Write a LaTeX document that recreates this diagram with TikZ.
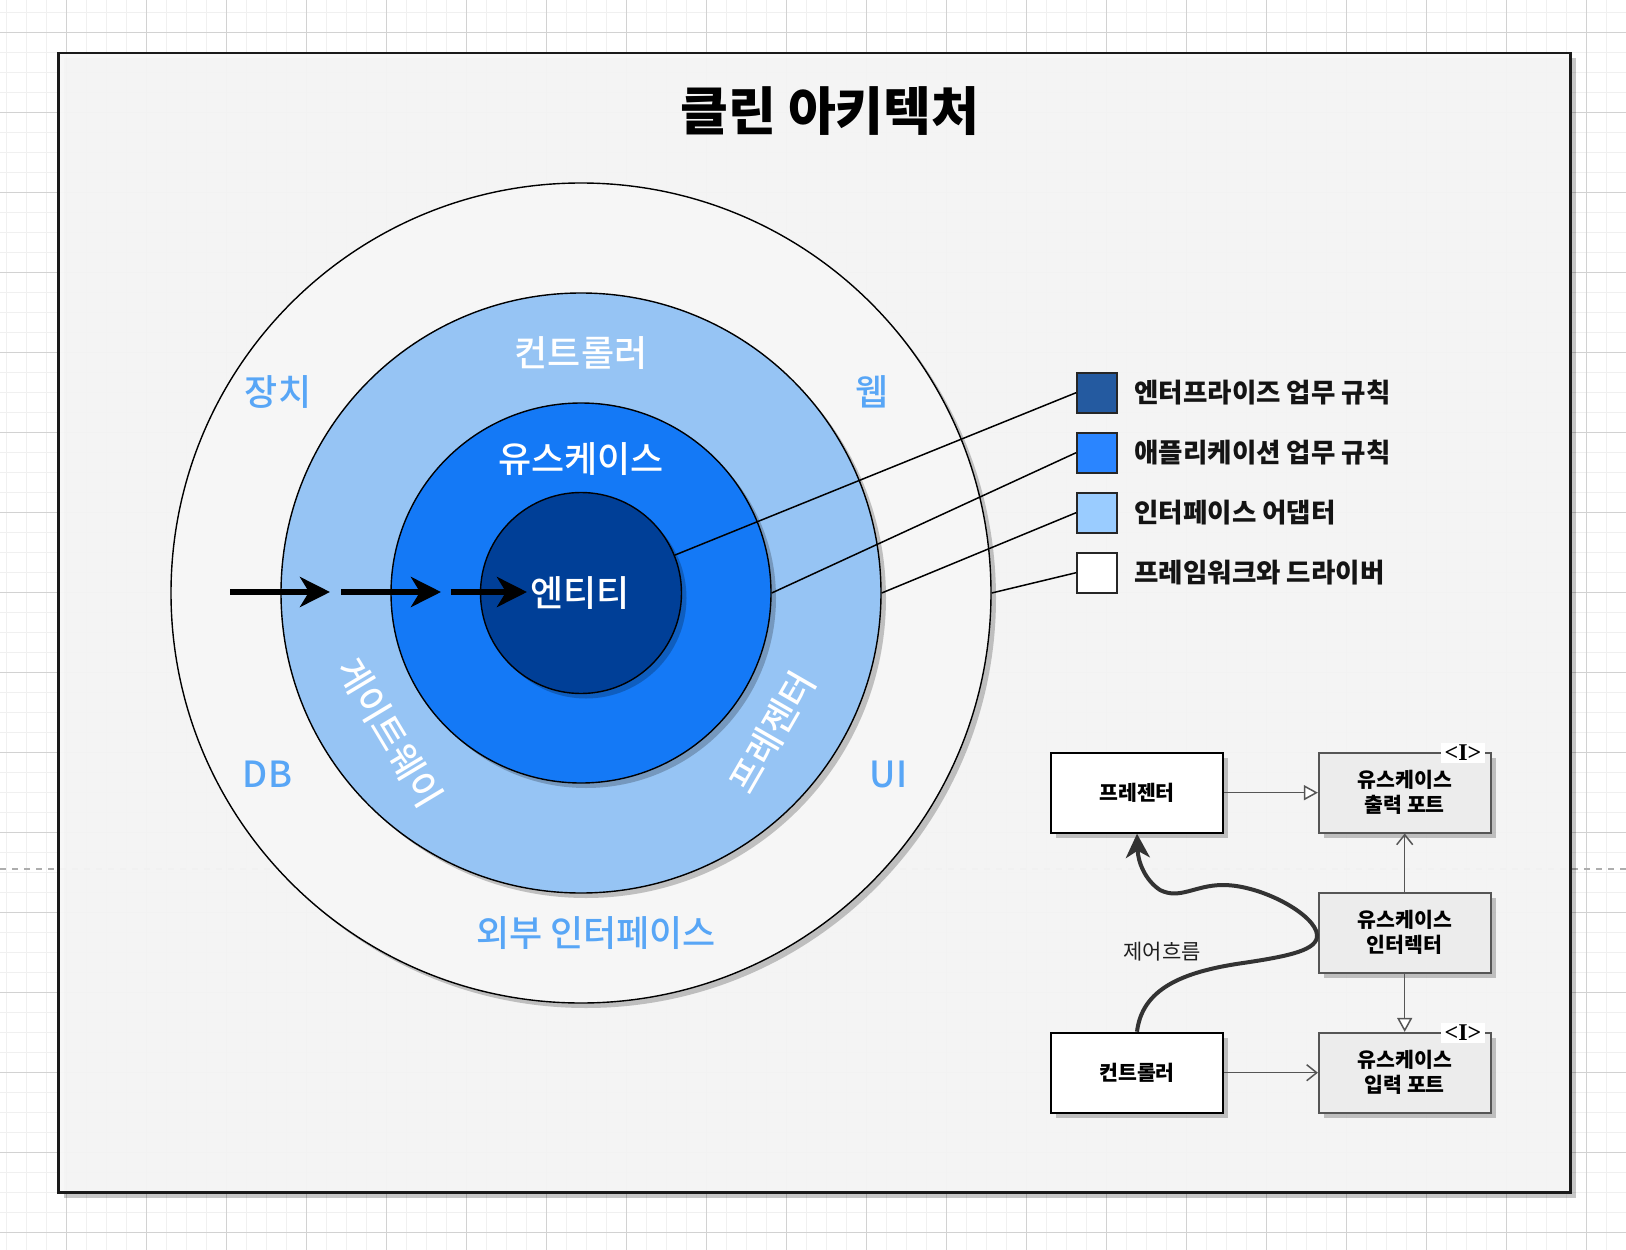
\documentclass[tikz,border=0pt]{standalone}
\usepackage{fontspec}
\setmainfont{Noto Sans CJK KR}
\newfontfamily\medfont{Noto Sans CJK KR Medium}
\newfontfamily\serifI{Liberation Serif}
\usetikzlibrary{arrows.meta,shadows}
\definecolor{framefill}{HTML}{F7F7F7}
\definecolor{framedraw}{HTML}{1A1A1A}
\definecolor{outerfill}{HTML}{F6F6F6}
\definecolor{ifacefill}{HTML}{96C4F4}
\definecolor{ucfill}{HTML}{1479F6}
\definecolor{entfill}{HTML}{003F97}
\definecolor{lgent}{HTML}{245AA0}
\definecolor{lgapp}{HTML}{2A85FF}
\definecolor{lgif}{HTML}{9ACCFF}
\definecolor{lblblue}{HTML}{58A6F6}
\definecolor{gridminor}{HTML}{F0F0F0}
\definecolor{gridmajor}{HTML}{D2D2D2}
\definecolor{umlgray}{HTML}{ECECEC}
\definecolor{umlline}{HTML}{555555}
\begin{document}
\begin{tikzpicture}[x=1pt,y=-1pt,
  shad/.style={drop shadow={shadow xshift=5pt,shadow yshift=-5pt,opacity=0.22,fill=black}},
  ring/.style={circle,draw=black,line width=1.4pt,inner sep=0pt,shad},
  outerlbl/.style={text=lblblue,font={\fontsize{36}{42}\medfont}},
  innerlbl/.style={text=white,font={\fontsize{36}{42}\medfont}},
  lgbox/.style={draw=black!85,line width=1.8pt,minimum size=40pt,inner sep=0pt},
  lgtext/.style={anchor=west,font={\fontsize{26.5}{30}\selectfont\bfseries},text=black!92},
  lgline/.style={draw=black,line width=1.5pt},
  bigarrow/.style={line width=6pt,-{Stealth[length=30pt,width=30pt,inset=9pt]}},
  whitebox/.style={draw=black,line width=2pt,fill=white,minimum width=172pt,minimum height=80pt,inner sep=0pt,align=center,font={\fontsize{20.5}{25}\selectfont\bfseries},shad},
  graybox/.style={draw=umlline,line width=1.6pt,fill=umlgray,minimum width=172pt,minimum height=80pt,inner sep=0pt,align=center,font={\fontsize{20.5}{25}\selectfont\bfseries},shad},
  iface/.style={fill=white,minimum width=44pt,minimum height=20pt,inner sep=0pt,font={\fontsize{24}{24}\serifI\bfseries}},
  umlconn/.style={draw=umlline,line width=1.5pt},
  realize/.style={umlconn,-{Triangle[open,length=14pt,width=15pt,fill=white]}},
  depend/.style={umlconn,-{Straight Barb[length=10pt,width=16pt]}},
  flow/.style={draw=black!80,line width=4pt,-{Stealth[length=24pt,width=24pt,inset=7pt]}}
]
\useasboundingbox (0,0) rectangle (1626,1250);
\fill[white] (0,0) rectangle (1626,1250);
% background grid
\foreach \gx in {6.6,26.6,...,1626} \draw[gridminor,line width=1.3pt] (\gx,0) -- (\gx,1250);
\foreach \gy in {12.3,32.3,...,1250} \draw[gridminor,line width=1.3pt] (0,\gy) -- (1626,\gy);
\foreach \gx in {66.6,146.6,...,1626} \draw[gridmajor,line width=0.9pt] (\gx,0) -- (\gx,1250);
\foreach \gy in {32.3,112.3,...,1250} \draw[gridmajor,line width=0.9pt] (0,\gy) -- (1626,\gy);
% page break line
\draw[black!32,line width=1.5pt,dash pattern=on 6pt off 6pt] (0,869) -- (1626,869);
% frame
\fill[black,opacity=0.22] (63.5,58) rectangle (1575.5,1197.5);
\fill[framefill,opacity=0.95] (58.5,53) rectangle (1570.5,1192.5);
\draw[framedraw,line width=2.5pt] (58.5,53) rectangle (1570.5,1192.5);
% title
\node[font={\fontsize{52}{58}\selectfont\bfseries}] (title) at (830,111) {클린 아키텍처};
% circles
\node[ring,fill=outerfill,minimum size=820pt] (outer) at (581,593) {};
\node[ring,fill=ifacefill,minimum size=600pt] (iface) at (581,593) {};
\node[ring,fill=ucfill,minimum size=380pt] (uc) at (581,593) {};
\node[ring,fill=entfill,minimum size=201pt] (ent) at (581,593) {};
% circle labels
\node[outerlbl] (lbdev) at (278,392) {장치};
\node[outerlbl] (lbweb) at (872,392) {웹};
\node[outerlbl] (lbdb) at (267.5,774) {DB};
\node[outerlbl] (lbui) at (888.7,774) {UI};
\node[outerlbl] (lbext) at (596,933) {외부 인터페이스};
\node[innerlbl] (lbctrl) at (581,353) {컨트롤러};
\node[innerlbl] (lbuc) at (581,459) {유스케이스};
\node[innerlbl] (lbent) at (580,593) {엔티티};
\node[innerlbl,rotate=-59] (lbgw) at (390,733) {게이트웨이};
\node[innerlbl,rotate=60] (lbpr) at (772,732) {프레젠터};
% dependency arrows
\coordinate (a1s) at (230,592);
\coordinate (a1e) at (330,592);
\coordinate (a2s) at (341,592);
\coordinate (a2e) at (441,592);
\coordinate (a3s) at (451,592);
\coordinate (a3e) at (527,592);
\draw[bigarrow] (a1s) -- (a1e);
\draw[bigarrow] (a2s) -- (a2e);
\draw[bigarrow] (a3s) -- (a3e);
% legend
\node[lgbox,fill=lgent] (lg1) at (1097,392.7) {};
\node[lgbox,fill=lgapp] (lg2) at (1097,452.7) {};
\node[lgbox,fill=lgif] (lg3) at (1097,512.7) {};
\node[lgbox,fill=white] (lg4) at (1097,572.7) {};
\node[lgtext] (lt1) at (1131,392.7) {엔터프라이즈 업무 규칙};
\node[lgtext] (lt2) at (1131,452.7) {애플리케이션 업무 규칙};
\node[lgtext] (lt3) at (1131,512.7) {인터페이스 어댑터};
\node[lgtext] (lt4) at (1131,572.7) {프레임워크와 드라이버};
\draw[lgline] (ent.22.5) -- (lg1.west);
\draw[lgline] (uc.east) -- (lg2.west);
\draw[lgline] (iface.east) -- (lg3.west);
\draw[lgline] (outer.east) -- (lg4.west);
% UML part
\node[whitebox] (pres) at (1137,792.7) {프레젠터};
\node[whitebox] (ctrl) at (1137,1072.7) {컨트롤러};
\node[graybox] (outp) at (1404.7,792.7) {유스케이스\\출력 포트};
\node[graybox] (inter) at (1404.7,932.7) {유스케이스\\인터렉터};
\node[graybox] (inp) at (1404.7,1072.7) {유스케이스\\입력 포트};
\node[iface] (if1) at (1463,752.7) {<I>};
\node[iface] (if2) at (1463,1032.7) {<I>};
\draw[realize] (pres.east) -- (outp.west);
\draw[depend] (inter.north) -- (outp.south);
\draw[realize] (inter.south) -- (inp.north);
\draw[depend] (ctrl.east) -- (inp.west);
\draw[flow] (ctrl.north) .. controls (1142,990) and (1180,972) .. (1243,963)
  .. controls (1290,956) and (1318,950) .. (1317,935)
  .. controls (1316,915) and (1262,885) .. (1223,885)
  .. controls (1195,885) and (1180,900) .. (1160,890)
  .. controls (1145,880) and (1138,862) .. (pres.south);
\node[font={\fontsize{21}{24}\selectfont},text=black!88] (flowlbl) at (1162,952) {제어흐름};
\end{tikzpicture}
\end{document}
